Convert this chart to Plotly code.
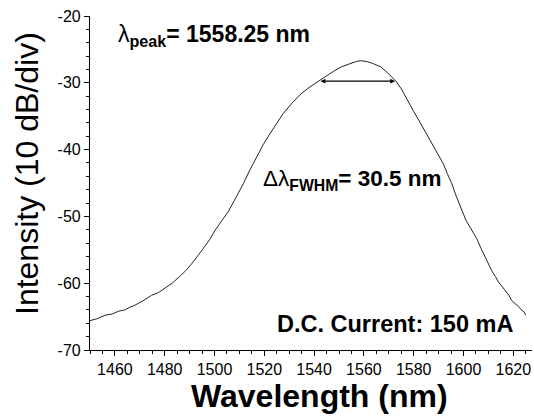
import plotly.graph_objects as go

# Spectrum
wavelength = [1450, 1453, 1456, 1459, 1461.4, 1464, 1466, 1468, 1471, 1474.8, 1477.5, 1480,
              1483, 1486, 1488.5, 1490.8, 1493, 1495.5, 1498, 1500.2, 1503, 1505.5, 1508,
              1510.2, 1511.6, 1514, 1517, 1519.5, 1522.3, 1525, 1527.6, 1531, 1534.3, 1538,
              1541.7, 1544.5, 1547.7, 1551, 1554.4, 1557, 1558.7, 1561, 1563.5, 1566.7, 1569.5,
              1572.8, 1575, 1577.4, 1580, 1582.8, 1585.5, 1588.2, 1590, 1592, 1593.5, 1595.3,
              1597, 1599.3, 1601, 1602.6, 1604, 1605.3, 1606.8, 1608, 1609.6, 1611.3, 1612.8,
              1614, 1615.5, 1617.3, 1618.4, 1619.3, 1620.4, 1621.4, 1622.1, 1622.7, 1623.5,
              1624.3, 1625]
intensity = [-65.6, -65.3, -64.8, -64.6, -64.2, -64.0, -63.6, -63.3, -62.7, -61.8, -61.4, -60.8,
             -60.0, -59.0, -58.1, -57.1, -56.1, -54.8, -53.5, -52.1, -50.6, -49.3, -47.6,
             -46.1, -45.1, -43.2, -41.1, -39.3, -37.6, -36.0, -34.6, -33.1, -31.8, -30.7,
             -29.8, -29.0, -28.3, -27.6, -27.1, -26.8, -26.7, -26.8, -27.1, -27.6, -28.5,
             -29.75, -30.9, -32.6, -34.3, -36.1, -37.9, -39.6, -40.8, -42.2, -43.6, -45.1,
             -46.9, -49.1, -50.6, -51.6, -52.5, -53.3, -54.6, -55.6, -56.8, -58.1, -59.0,
             -59.8, -60.5, -61.3, -61.9, -62.6, -62.9, -63.3, -63.5, -63.8, -64.1,
             -64.3, -64.8]

# FWHM marker (arrow between half-maximum points)
fwhm_start = [1542.0, -29.75]
fwhm_end = [1572.5, -29.75]

x_range = [1450, 1627.5]
y_range = [-70, -20]
x_tick_vals = [1460, 1480, 1500, 1520, 1540, 1560, 1580, 1600, 1620]
x_tick_labels = ["1460", "1480", "1500", "1520", "1540", "1560", "1580", "1600", "1620"]
y_tick_vals = [-70, -60, -50, -40, -30, -20]
y_tick_labels = ["-70", "-60", "-50", "-40", "-30", "-20"]

peak_label = "λ<sub><b>peak</b></sub><b>= 1558.25 nm</b>"
fwhm_label = "Δλ<sub><b>FWHM</b></sub><b>= 30.5 nm</b>"
current_label = "<b>D.C. Current: 150 mA</b>"
x_title = "<b>Wavelength (nm)</b>"
y_title = "Intensity (10 dB/div)"

FONT = "Liberation Sans, Arial, sans-serif"

W, H = 534, 418
L, T = 90, 16
PLOT_W, PLOT_H = 442, 334

fig = go.Figure()
fig.add_trace(go.Scatter(x=wavelength, y=intensity, mode="lines",
                         line=dict(color="#222222", width=1), showlegend=False,
                         hoverinfo="skip"))

fig.update_layout(
    width=W, height=H,
    margin=dict(l=L, r=W - L - PLOT_W, t=T, b=H - T - PLOT_H, autoexpand=False),
    paper_bgcolor="white", plot_bgcolor="white",
    font=dict(family=FONT, color="black"),
    xaxis=dict(range=x_range, showgrid=False, zeroline=False,
               showline=True, linecolor="black", linewidth=1.2,
               ticks="outside", ticklen=5, tickwidth=1, tickcolor="black",
               tickvals=x_tick_vals, ticktext=x_tick_labels,
               tickfont=dict(size=16, family=FONT), ticklabeloverflow="allow",
               minor=dict(dtick=5, tick0=1450, ticks="outside", ticklen=3,
                          tickcolor="black", showgrid=False)),
    yaxis=dict(range=y_range, showgrid=False, zeroline=False,
               showline=True, linecolor="black", linewidth=1.2,
               ticks="outside", ticklen=5, tickwidth=1, tickcolor="black",
               tickvals=y_tick_vals, ticktext=y_tick_labels,
               tickfont=dict(size=16, family=FONT), ticklabeloverflow="allow",
               minor=dict(dtick=2, tick0=-70, ticks="outside", ticklen=3,
                          tickcolor="black", showgrid=False)),
)

fig.add_annotation(x=fwhm_end[0], y=fwhm_end[1], ax=fwhm_start[0], ay=fwhm_start[1],
                   xref="x", yref="y", axref="x", ayref="y", text="",
                   showarrow=True, arrowhead=2, arrowside="end+start",
                   arrowsize=0.8, arrowwidth=1.2, arrowcolor="black",
                   startarrowhead=2, startarrowsize=0.8)

fig.add_annotation(x=1460.5, y=-22.9, xref="x", yref="y", text=peak_label,
                   showarrow=False, xanchor="left", yanchor="middle",
                   font=dict(size=23, family=FONT))
fig.add_annotation(x=1518.5, y=-44.5, xref="x", yref="y", text=fwhm_label,
                   showarrow=False, xanchor="left", yanchor="middle",
                   font=dict(size=22.5, family=FONT))
fig.add_annotation(x=1620.5, y=-66.1, xref="x", yref="y", text=current_label,
                   showarrow=False, xanchor="right", yanchor="middle",
                   font=dict(size=23.5, family=FONT))

fig.add_annotation(x=(319.5 - 90) / PLOT_W, y=(350 - 396) / PLOT_H, xref="paper", yref="paper",
                   text=x_title, showarrow=False, xanchor="center", yanchor="middle",
                   font=dict(size=32, family=FONT))
fig.add_annotation(x=(27 - 90) / PLOT_W, y=(350 - 174) / PLOT_H, xref="paper", yref="paper",
                   text=y_title, showarrow=False, textangle=-90,
                   xanchor="center", yanchor="middle",
                   font=dict(size=32, family=FONT))

fig.write_html("out.html", config={"displayModeBar": False},
               post_script="document.body.style.margin='0px';document.body.style.overflow='hidden';")
